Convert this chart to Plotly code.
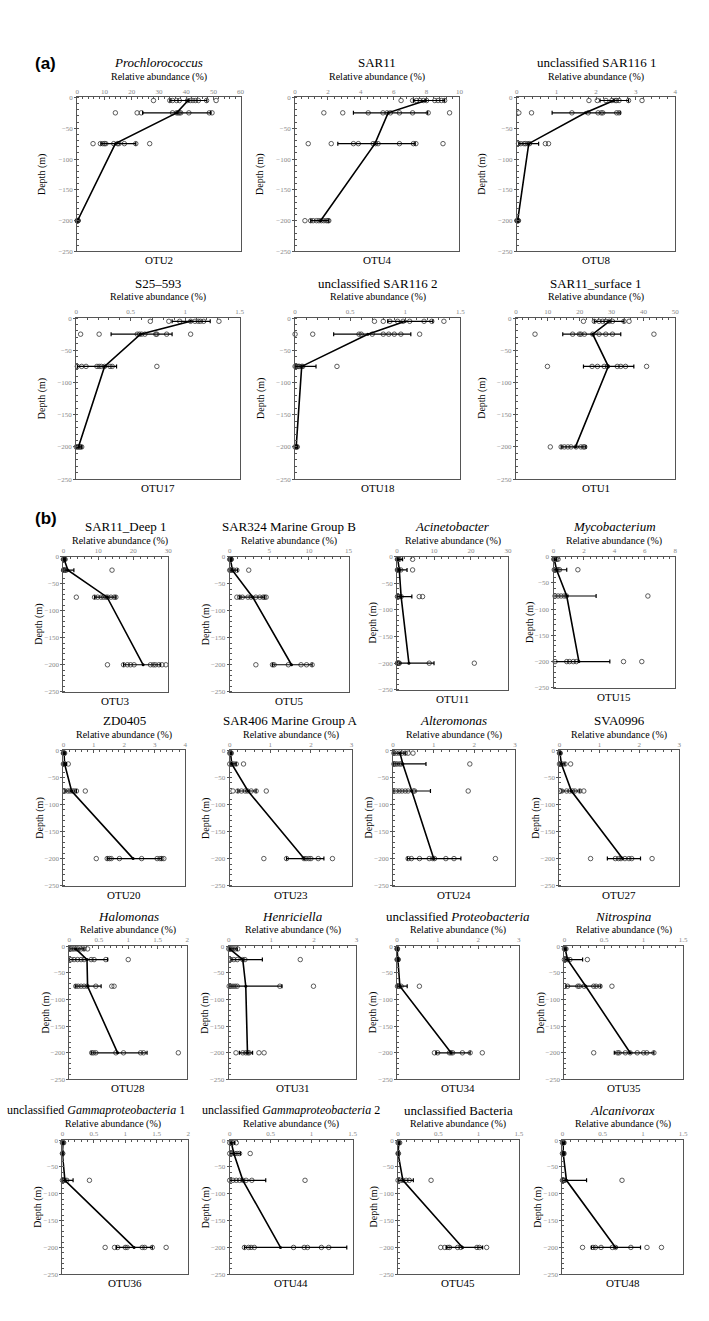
import plotly.graph_objects as go

DEPTHS = [-5, -25, -75, -200]

# ---------------- panel (a) ----------------
OTU2_PTS = [[28, 34, 35, 36.5, 37.5, 40.5, 41.5, 42.5, 43.5, 44.5, 47.5, 51],
            [14, 22, 23.5, 35, 36.5, 37, 37.5, 38, 41, 48.5, 49.5],
            [5.8, 8.5, 9.4, 10, 10.5, 13.4, 14.8, 15.3, 17.3, 21.5, 26.6],
            [0.0, 0.05, 0.1, 0.15, 0.2, 0.25, 0.3]]
OTU2_MEAN = [40.7, 36.5, 14.0, 0.1]
OTU2_LO = [34.0, 24.0, 8.7, 0.0]
OTU2_HI = [47.6, 49.0, 21.5, 0.25]

OTU4_PTS = [[6.45, 7.15, 7.4, 7.6, 7.8, 8.0, 8.5, 8.7, 8.9, 9.1],
            [1.75, 2.9, 4.45, 5.35, 5.6, 5.8, 6.35, 7.15, 8.1, 9.4],
            [0.8, 2.2, 3.55, 3.85, 4.75, 4.9, 5.05, 6.35, 7.2, 7.35, 9.0],
            [0.6, 0.95, 1.1, 1.3, 1.45, 1.6, 1.75, 1.9, 2.0, 2.05]]
OTU4_MEAN = [7.95, 5.66, 4.86, 1.55]
OTU4_LO = [7.2, 3.55, 2.6, 0.95]
OTU4_HI = [9.1, 8.07, 7.3, 2.05]

OTU8_PTS = [[1.82, 2.03, 2.25, 2.4, 2.48, 2.52, 2.58, 2.82, 3.16],
            [0.05, 0.37, 1.39, 1.8, 2.05, 2.13, 2.17, 2.52, 2.58],
            [0.04, 0.1, 0.18, 0.22, 0.28, 0.32, 0.72, 0.8],
            [0.0, 0.01, 0.02, 0.03, 0.04]]
OTU8_MEAN = [2.45, 1.73, 0.30, 0.02]
OTU8_LO = [2.1, 0.89, 0.05, 0.0]
OTU8_HI = [2.82, 2.61, 0.55, 0.04]

OTU17_PTS = [[0.68, 0.85, 0.95, 1.05, 1.09, 1.12, 1.14, 1.17, 1.31],
             [0.04, 0.21, 0.56, 0.58, 0.6, 0.63, 0.73, 0.74, 0.83, 1.05],
             [0.01, 0.05, 0.09, 0.19, 0.21, 0.23, 0.26, 0.31, 0.33, 0.74],
             [0.0, 0.01, 0.02, 0.03, 0.04, 0.05]]
OTU17_MEAN = [1.05, 0.59, 0.26, 0.02]
OTU17_LO = [0.88, 0.32, 0.01, 0.0]
OTU17_HI = [1.23, 0.88, 0.37, 0.05]

OTU18_PTS = [[0.72, 0.8, 0.86, 0.93, 0.98, 1.04, 1.17, 1.24, 1.35],
             [0.0, 0.16, 0.58, 0.6, 0.7, 0.8, 0.85, 0.9, 0.96, 1.13],
             [0.0, 0.01, 0.02, 0.03, 0.04, 0.06, 0.07, 0.38],
             [0.0, 0.01, 0.015, 0.02]]
OTU18_MEAN = [1.0, 0.66, 0.06, 0.01]
OTU18_LO = [0.84, 0.35, 0.0, 0.0]
OTU18_HI = [1.25, 1.05, 0.19, 0.02]

OTU1_PTS = [[21.2, 24.6, 26.1, 27.2, 28.2, 29.3, 30.3, 33.9, 35.5],
            [6.0, 17.8, 19.9, 20.4, 21.5, 24.1, 26.1, 28.2, 30.3, 43.3],
            [9.9, 23.9, 25.6, 27.7, 28.7, 31.8, 32.9, 34.4, 41.0],
            [10.8, 14.2, 15.2, 16.3, 17.3, 18.9, 20.4, 21.2, 21.6]]
OTU1_MEAN = [29.3, 24.1, 29.0, 18.7]
OTU1_LO = [24.6, 14.7, 21.2, 14.2]
OTU1_HI = [33.9, 32.9, 37.0, 22.0]

# ---------------- panel (b) ----------------
OTU3_PTS = [[0.0, 0.1, 0.2, 0.3, 0.5],
            [0.05, 0.1, 0.15, 0.3, 0.5, 0.8, 13.9],
            [3.7, 8.9, 9.8, 10.8, 11.5, 12.2, 12.7, 13.6, 14.5, 15.0],
            [12.6, 17.2, 18.3, 19.2, 20.2, 24.9, 25.7, 26.3, 27.3, 28.2, 29.3]]
OTU3_MEAN = [0.2, 1.3, 12.5, 22.8]
OTU3_LO = [0.0, 0.0, 8.9, 17.2]
OTU3_HI = [0.5, 3.0, 15.0, 27.7]

OTU5_PTS = [[0.0, 0.05, 0.1, 0.15, 0.2],
            [0.0, 0.1, 0.3, 0.5, 0.9, 2.4],
            [0.9, 1.25, 1.6, 2.3, 2.7, 3.3, 3.8, 4.2, 4.4, 4.6],
            [3.3, 5.4, 5.6, 7.4, 9.0, 9.7, 10.4]]
OTU5_MEAN = [0.1, 0.33, 2.9, 7.8]
OTU5_LO = [0.0, 0.0, 1.25, 5.4]
OTU5_HI = [0.25, 1.0, 4.4, 10.4]

OTU11_PTS = [[0.1, 0.2, 0.3, 0.6, 4.2],
             [0.1, 0.2, 0.3, 0.5, 1.0, 4.2],
             [0.1, 0.3, 0.7, 1.1, 6.0, 6.9],
             [0.1, 0.2, 0.3, 0.5, 0.6, 8.7, 20.9]]
OTU11_MEAN = [0.2, 0.6, 1.1, 3.2]
OTU11_LO = [0.0, 0.0, 0.0, 0.0]
OTU11_HI = [1.5, 2.7, 4.0, 10.0]

OTU15_PTS = [[0.02, 0.05, 0.1, 0.2, 0.3],
             [0.05, 0.1, 0.2, 0.3, 0.4, 1.6],
             [0.1, 0.3, 0.5, 0.7, 0.85, 6.2],
             [0.1, 0.87, 1.05, 1.3, 1.5, 4.6, 5.8]]
OTU15_MEAN = [0.05, 0.2, 0.87, 1.67]
OTU15_LO = [0.0, 0.0, 0.0, 0.0]
OTU15_HI = [0.2, 0.87, 2.8, 3.7]

OTU20_PTS = [[0.0, 0.01, 0.02, 0.04],
             [0.0, 0.02, 0.05, 0.16],
             [0.05, 0.15, 0.22, 0.3, 0.36, 0.43, 0.72],
             [1.08, 1.44, 1.51, 1.57, 1.84, 2.57, 3.08, 3.17, 3.23, 3.3]]
OTU20_MEAN = [0.02, 0.04, 0.27, 2.29]
OTU20_LO = [0.0, 0.0, 0.05, 1.44]
OTU20_HI = [0.05, 0.1, 0.43, 3.23]

OTU23_PTS = [[0.0, 0.02, 0.04],
             [0.0, 0.05, 0.1, 0.16, 0.34],
             [0.08, 0.2, 0.29, 0.38, 0.44, 0.53, 0.65, 0.9],
             [0.84, 1.4, 1.83, 1.88, 1.95, 2.0, 2.18, 2.53]]
OTU23_MEAN = [0.02, 0.05, 0.45, 1.83]
OTU23_LO = [0.0, 0.0, 0.2, 1.4]
OTU23_HI = [0.05, 0.16, 0.65, 2.32]

OTU24_PTS = [[0.02, 0.08, 0.15, 0.22, 0.3, 0.37, 0.49],
             [0.02, 0.06, 0.1, 0.16, 0.2, 1.89],
             [0.08, 0.15, 0.22, 0.3, 0.37, 0.5, 0.53, 1.85],
             [0.37, 0.45, 0.65, 0.89, 0.98, 1.02, 1.3, 1.5, 2.52]]
OTU24_MEAN = [0.17, 0.24, 0.46, 1.0]
OTU24_LO = [0.0, 0.0, 0.0, 0.35]
OTU24_HI = [0.3, 0.81, 0.92, 1.67]

OTU27_PTS = [[0.0, 0.01, 0.02],
             [0.0, 0.03, 0.07, 0.14, 0.28],
             [0.06, 0.18, 0.26, 0.33, 0.39, 0.51, 0.61],
             [0.78, 1.4, 1.48, 1.54, 1.64, 1.74, 1.81, 2.32]]
OTU27_MEAN = [0.01, 0.05, 0.3, 1.58]
OTU27_LO = [0.0, 0.0, 0.06, 1.2]
OTU27_HI = [0.03, 0.14, 0.51, 2.03]

OTU28_PTS = [[0.02, 0.05, 0.08, 0.12, 0.15, 0.2, 0.25, 0.31],
             [0.03, 0.08, 0.14, 0.2, 0.25, 0.37, 0.42, 0.62, 1.0],
             [0.11, 0.15, 0.2, 0.25, 0.3, 0.45, 0.72, 0.76],
             [0.38, 0.41, 0.45, 0.79, 0.92, 1.21, 1.26, 1.85]]
OTU28_MEAN = [0.11, 0.3, 0.31, 0.82]
OTU28_LO = [0.0, 0.0, 0.1, 0.37]
OTU28_HI = [0.25, 0.65, 0.54, 1.32]

OTU31_PTS = [[0.0, 0.03, 0.06, 0.1, 0.15, 0.21],
             [0.05, 0.12, 0.2, 0.33, 0.38, 1.68],
             [0.01, 0.05, 0.1, 0.15, 0.2, 1.2, 1.99],
             [0.17, 0.33, 0.4, 0.45, 0.48, 0.71, 0.83]]
OTU31_MEAN = [0.02, 0.33, 0.4, 0.44]
OTU31_LO = [0.0, 0.05, 0.0, 0.25]
OTU31_HI = [0.2, 0.79, 1.25, 0.56]

OTU34_PTS = [[0.0, 0.005, 0.01],
             [0.0, 0.01, 0.02, 0.03],
             [0.01, 0.03, 0.05, 0.1, 0.55],
             [0.92, 1.0, 1.29, 1.33, 1.37, 1.61, 1.8, 2.1]]
OTU34_MEAN = [0.0, 0.02, 0.07, 1.33]
OTU34_LO = [0.0, 0.0, 0.0, 0.96]
OTU34_HI = [0.02, 0.04, 0.25, 1.8]

OTU35_PTS = [[0.0, 0.01, 0.02],
             [0.0, 0.02, 0.04, 0.07, 0.29],
             [0.04, 0.17, 0.19, 0.25, 0.37, 0.4, 0.45, 0.6],
             [0.37, 0.67, 0.69, 0.77, 0.83, 0.92, 1.0, 1.04, 1.13]]
OTU35_MEAN = [0.01, 0.04, 0.27, 0.83]
OTU35_LO = [0.0, 0.0, 0.02, 0.63]
OTU35_HI = [0.02, 0.23, 0.46, 1.13]

OTU36_PTS = [[0.0, 0.01, 0.02],
             [0.0, 0.005],
             [0.0, 0.02, 0.04, 0.07, 0.43],
             [0.68, 0.83, 0.88, 1.0, 1.03, 1.27, 1.31, 1.43, 1.65]]
OTU36_MEAN = [0.01, 0.0, 0.04, 1.14]
OTU36_LO = [0.0, 0.0, 0.0, 0.86]
OTU36_HI = [0.02, 0.01, 0.17, 1.43]

OTU44_PTS = [[0.0, 0.02, 0.04, 0.08],
             [0.0, 0.03, 0.06, 0.09, 0.12, 0.25],
             [0.0, 0.04, 0.08, 0.12, 0.16, 0.2, 0.27, 0.92],
             [0.18, 0.23, 0.26, 0.3, 0.78, 0.91, 0.95, 1.12, 1.21]]
OTU44_MEAN = [0.02, 0.05, 0.16, 0.62]
OTU44_LO = [0.0, 0.0, 0.0, 0.18]
OTU44_HI = [0.06, 0.13, 0.44, 1.43]

OTU45_PTS = [[0.0, 0.01, 0.02],
             [0.0, 0.005],
             [0.0, 0.03, 0.06, 0.1, 0.14, 0.41],
             [0.53, 0.58, 0.62, 0.64, 0.74, 0.78, 0.98, 1.01, 1.1]]
OTU45_MEAN = [0.01, 0.0, 0.06, 0.8]
OTU45_LO = [0.0, 0.0, 0.0, 0.6]
OTU45_HI = [0.02, 0.01, 0.19, 1.05]

OTU48_PTS = [[0.0, 0.01, 0.02],
             [0.0, 0.01, 0.02],
             [0.0, 0.01, 0.02, 0.03, 0.74],
             [0.25, 0.38, 0.41, 0.48, 0.62, 0.66, 0.85, 1.05, 1.23]]
OTU48_MEAN = [0.01, 0.01, 0.05, 0.66]
OTU48_LO = [0.0, 0.0, 0.0, 0.36]
OTU48_HI = [0.03, 0.03, 0.3, 0.97]

OTU_NAMES = ["OTU2", "OTU4", "OTU8", "OTU17", "OTU18", "OTU1",
             "OTU3", "OTU5", "OTU11", "OTU15",
             "OTU20", "OTU23", "OTU24", "OTU27",
             "OTU28", "OTU31", "OTU34", "OTU35",
             "OTU36", "OTU44", "OTU45", "OTU48"]
TITLES = ["<i>Prochlorococcus</i>", "SAR11", "unclassified SAR116 1",
          "S25–593", "unclassified SAR116 2", "SAR11_surface 1",
          "SAR11_Deep 1", "SAR324 Marine Group B", "<i>Acinetobacter</i>", "<i>Mycobacterium</i>",
          "ZD0405", "SAR406 Marine Group A", "<i>Alteromonas</i>", "SVA0996",
          "<i>Halomonas</i>", "<i>Henriciella</i>", "unclassified <i>Proteobacteria</i>", "<i>Nitrospina</i>",
          "unclassified <i>Gammaproteobacteria</i> 1", "unclassified <i>Gammaproteobacteria</i> 2",
          "unclassified Bacteria", "<i>Alcanivorax</i>"]
XMAX = [60, 10, 4, 1.5, 1.5, 50,
        30, 15, 30, 8,
        4, 3, 3, 3,
        2, 3, 3, 1.5,
        2, 1.5, 1.5, 1.5]
XDTICK = [10, 2, 1, 0.5, 0.5, 10,
          10, 5, 10, 2,
          1, 1, 1, 1,
          0.5, 1, 1, 0.5,
          0.5, 0.5, 0.5, 0.5]

DATA = {n: (globals()[n + "_PTS"], globals()[n + "_MEAN"], globals()[n + "_LO"], globals()[n + "_HI"])
        for n in OTU_NAMES}

# ---------------- layout (pixel boxes: left, right, top, bottom) ----------------
W, H = 709, 1321
BOX = {
    "OTU2": (76, 241, 94, 249), "OTU4": (296, 462, 94, 249), "OTU8": (520, 680, 94, 249),
    "OTU17": (75, 240, 316, 478), "OTU18": (296, 463, 316, 478), "OTU1": (519, 680, 316, 478),
    "OTU3": (62, 168, 556, 692), "OTU5": (230, 350, 556, 692), "OTU11": (399, 511, 556, 690), "OTU15": (557, 680, 556, 688),
    "OTU20": (62, 185, 751, 887), "OTU23": (230, 353, 751, 887), "OTU24": (395, 518, 751, 887), "OTU27": (563, 684, 751, 887),
    "OTU28": (68, 187, 948, 1082), "OTU31": (229, 358, 948, 1082), "OTU34": (399, 522, 948, 1082), "OTU35": (568, 688, 948, 1082),
    "OTU36": (61, 188, 1143, 1278), "OTU44": (230, 354, 1143, 1278), "OTU45": (400, 522, 1143, 1278), "OTU48": (566, 688, 1143, 1278),
}
TITLE_DX = {"OTU36": -30, "OTU3": 10}
TITLE_SIZE = {"OTU36": 12, "OTU44": 12}
SERIF = "Liberation Serif, 'Times New Roman', Times, 'DejaVu Serif', serif"
AXC = "#555"


def px(x):
    return x / W


def py(y):
    return 1 - y / H


fig = go.Figure()
ann = []
axes = {}

for i, name in enumerate(OTU_NAMES):
    k = "" if i == 0 else str(i + 1)
    pts, mean, lo, hi = DATA[name]
    x0, x1, y0, y1 = BOX[name]
    xr, yr = "x" + k, "y" + k
    sx = [v for row in pts for v in row]
    sy = [DEPTHS[j] for j, row in enumerate(pts) for _ in row]
    fig.add_trace(go.Scatter(x=sx, y=sy, mode="markers", xaxis=xr, yaxis=yr,
                             marker=dict(symbol="circle-open", size=4.5, color="#333", line=dict(width=0.8)),
                             cliponaxis=False, showlegend=False, hoverinfo="skip"))
    fig.add_trace(go.Scatter(x=mean, y=DEPTHS, mode="lines", xaxis=xr, yaxis=yr,
                             line=dict(color="black", width=1.6), cliponaxis=False,
                             showlegend=False, hoverinfo="skip"))
    fig.add_trace(go.Scatter(x=mean, y=DEPTHS, mode="markers", xaxis=xr, yaxis=yr,
                             marker=dict(size=3, color="black"),
                             error_x=dict(type="data", symmetric=False,
                                          array=[h - m for h, m in zip(hi, mean)],
                                          arrayminus=[m - l for m, l in zip(mean, lo)],
                                          color="black", thickness=1.2, width=2),
                             cliponaxis=False, showlegend=False, hoverinfo="skip"))
    axes["xaxis" + k] = dict(domain=[px(x0), px(x1)], anchor=yr, side="top",
                             range=[0, XMAX[i]], tick0=0, dtick=XDTICK[i],
                             showline=True, mirror=True, linecolor=AXC, linewidth=1,
                             ticks="inside", ticklen=3, tickcolor=AXC, tickwidth=1,
                             minor=dict(ticks="inside", ticklen=2, dtick=XDTICK[i] / 5, tickcolor=AXC),
                             tickfont=dict(family=SERIF, size=7, color="#888"),
                             showgrid=False, zeroline=False, fixedrange=True)
    axes["yaxis" + k] = dict(domain=[py(y1), py(y0)], anchor=xr,
                             range=[-250, 0], tick0=0, dtick=50,
                             showline=True, mirror=True, linecolor=AXC, linewidth=1,
                             ticks="outside", ticklen=2, tickcolor=AXC, tickwidth=1,
                             minor=dict(ticks="inside", ticklen=2, dtick=10, tickcolor=AXC),
                             tickfont=dict(family=SERIF, size=7, color="#888"),
                             showgrid=False, zeroline=False, fixedrange=True)
    is_a = i < 6
    cx = (x0 + x1) / 2
    t_off, r_off, d_off = (35, 21, 35) if is_a else (30, 16, 24)
    dx = TITLE_DX.get(name, 0)
    ann.append(dict(text=TITLES[i], x=px(cx + dx), y=py(y0 - t_off),
                    xanchor="center", yanchor="middle", showarrow=False,
                    font=dict(family=SERIF, size=TITLE_SIZE.get(name, 13), color="black")))
    ann.append(dict(text="Relative abundance (%)", x=px(cx + dx * 0.4), y=py(y0 - r_off),
                    xanchor="center", yanchor="middle", showarrow=False,
                    font=dict(family=SERIF, size=10, color="black")))
    ann.append(dict(text="Depth (m)", x=px(x0 - d_off), y=py((y0 + y1) / 2), textangle=-90,
                    xanchor="center", yanchor="middle", showarrow=False,
                    font=dict(family=SERIF, size=10, color="black")))
    ann.append(dict(text=name, x=px(cx), y=py(y1 + 9),
                    xanchor="center", yanchor="middle", showarrow=False,
                    font=dict(family=SERIF, size=11, color="black")))

ann.append(dict(text="<b>(a)</b>", x=px(44), y=py(60), xanchor="center", yanchor="middle",
                showarrow=False, font=dict(family="Liberation Sans, Arial, sans-serif", size=17, color="black")))
ann.append(dict(text="<b>(b)</b>", x=px(44), y=py(518), xanchor="center", yanchor="middle",
                showarrow=False, font=dict(family="Liberation Sans, Arial, sans-serif", size=17, color="black")))

for a in ann:
    a["xref"] = "paper"
    a["yref"] = "paper"

fig.update_layout(width=W, height=H, margin=dict(l=0, r=0, t=0, b=0),
                  paper_bgcolor="white", plot_bgcolor="white",
                  font=dict(family=SERIF),
                  showlegend=False, annotations=ann, **axes)

fig.write_html("out.html", config={"displayModeBar": False},
               post_script="document.body.style.margin='0px';")
